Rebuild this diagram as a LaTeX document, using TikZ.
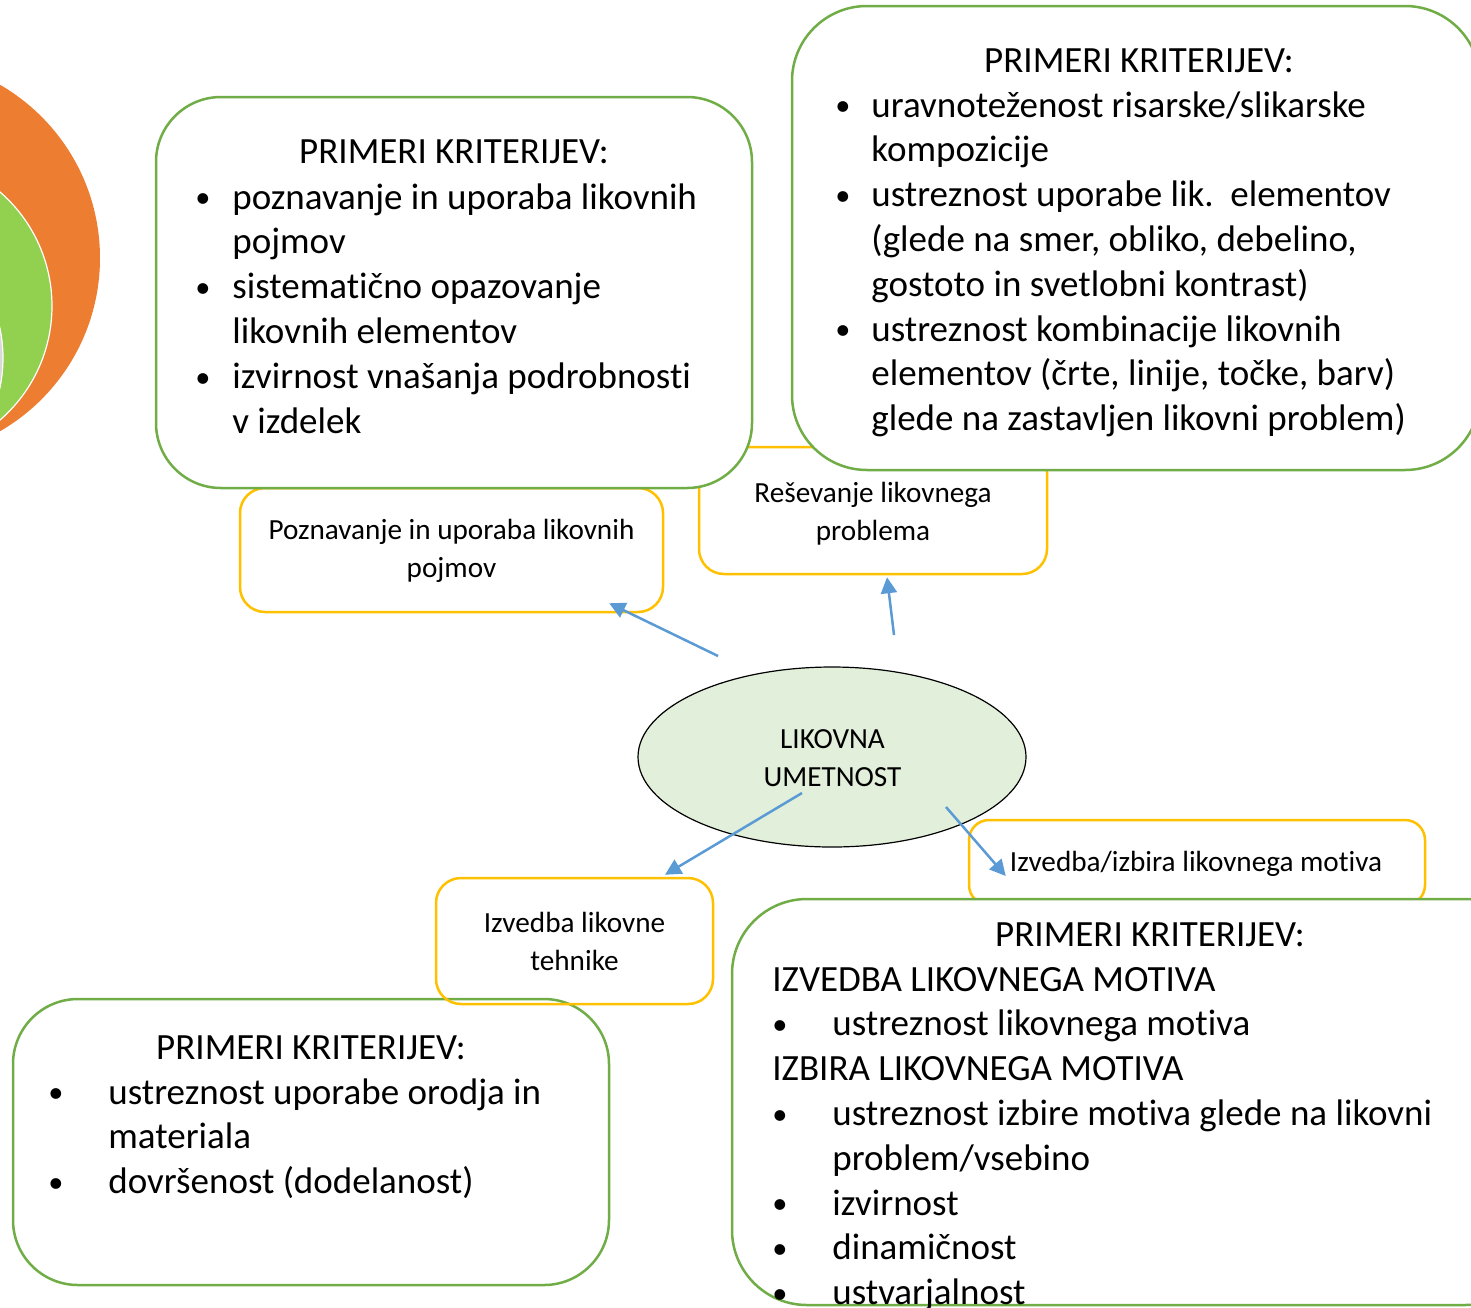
\documentclass[tikz,border=0pt]{standalone}
\usepackage{fontspec}
\setmainfont[RawFeature=-liga]{Carlito}
\usetikzlibrary{shapes.geometric,arrows.meta,calc}
\definecolor{kgreen}{HTML}{70AD47}
\definecolor{kyellow}{HTML}{FFC000}
\definecolor{kblue}{HTML}{5B9BD5}
\definecolor{korange}{HTML}{ED7D31}
\definecolor{klime}{HTML}{92D050}
\definecolor{kellipse}{HTML}{E2EFDA}
\definecolor{kgrey}{HTML}{D9D9D9}
\newcommand{\bigfont}{\fontsize{18.5pt}{22.4pt}\selectfont}
\newcommand{\smallfont}{\fontsize{14.6pt}{19pt}\selectfont}
\newcommand{\kbul}{\raisebox{0.6pt}{\scalebox{0.82}{\textbullet}}}
\begin{document}
\begin{tikzpicture}[x={(0.5pt,0)},y={(0,-0.5pt)},
  greenbox/.style={draw=kgreen,line width=1.25pt,fill=white,rectangle,inner sep=0pt},
  yellowbox/.style={draw=kyellow,line width=1.25pt,rectangle,rounded corners=12.5pt,inner sep=0pt},
  arr/.style={draw=kblue,line width=1.25pt,-{Triangle[length=8pt,width=8pt]}},
  bigtxt/.style={inner sep=0pt,font=\bigfont},
  smalltxt/.style={inner sep=0pt,font=\smallfont}]
\useasboundingbox (0,0) rectangle (1471,1307);
\clip (0,0) rectangle (1471,1307);

% decorative circles at the left edge
\fill[korange] (-100,258) circle[radius=100pt];
\filldraw[fill=klime,draw=white,line width=0.6pt] (-99,306) circle[radius=75.5pt];
\filldraw[fill=kgrey,draw=white,line width=0.6pt] (-140,358) circle[radius=71.5pt];

% yellow boxes lying under the green ones
\node[yellowbox,minimum width=174pt,minimum height=63.5pt] (C) at (873,510.5) {};
\node[yellowbox,minimum width=211.5pt,minimum height=62pt] (B) at (451.5,550) {};
\node[yellowbox,rounded corners=10pt,minimum width=228pt,minimum height=42.5pt] (F) at (1197,862.5) {};

% green boxes
\node[greenbox,rounded corners=32.5pt,minimum width=298pt,minimum height=195.5pt] (A) at (454,292.5) {};
\node[greenbox,rounded corners=37.5pt,minimum width=344pt,minimum height=232pt] (D) at (1136,238) {};
\node[greenbox,rounded corners=37.5pt,minimum width=404pt,minimum height=203pt] (G) at (1136,1102) {};
\node[greenbox,rounded corners=32.5pt,minimum width=298pt,minimum height=143pt] (I) at (311,1142) {};
\node[yellowbox,minimum width=138.5pt,minimum height=63pt] (H) at (574.5,941) {};

% central ellipse
\node[ellipse,draw=black,line width=0.6pt,fill=kellipse,minimum width=194pt,minimum height=90pt,inner sep=0pt] (E) at (832,757) {};

% texts of the small boxes
\node[smalltxt,anchor=base] (Et) at (832.5,748) {\begin{tabular}[t]{@{}c@{}}LIKOVNA\\UMETNOST\end{tabular}};
\node[smalltxt,anchor=base] (Bt) at (451.5,539) {\begin{tabular}[t]{@{}c@{}}Poznavanje in uporaba likovnih\\pojmov\end{tabular}};
\node[smalltxt,anchor=base] (Ct) at (873,502) {\begin{tabular}[t]{@{}c@{}}Reševanje likovnega\\problema\end{tabular}};
\node[smalltxt,anchor=base] (Ht) at (574.5,932) {\begin{tabular}[t]{@{}c@{}}Izvedba likovne\\tehnike\end{tabular}};
\node[smalltxt,anchor=base] (Ft) at (1196,871) {Izvedba/izbira likovnega motiva};

% box A text
\node[bigtxt,anchor=base] (At) at (454,163) {PRIMERI KRITERIJEV:};
\node[bigtxt,anchor=base west] (Al) at (195,209) {\begin{tabular}[t]{@{}p{18.5pt}@{}l@{}}
\kbul & poznavanje in uporaba likovnih\\
 & pojmov\\
\kbul & sistematično opazovanje\\
 & likovnih elementov\\
\kbul & izvirnost vnašanja podrobnosti\\
 & v izdelek
\end{tabular}};

% box D text
\node[bigtxt,anchor=base] (Dt) at (1139,72) {PRIMERI KRITERIJEV:};
\node[bigtxt,anchor=base west] (Dl) at (835,117) {\begin{tabular}[t]{@{}p{18pt}@{}l@{}}
\kbul & uravnoteženost risarske/slikarske\\
 & kompozicije\\
\kbul & ustreznost uporabe lik.\ \ elementov\\
 & (glede na smer, obliko, debelino,\\
 & gostoto in svetlobni kontrast)\\
\kbul & ustreznost kombinacije likovnih\\
 & elementov (črte, linije, točke, barv)\\
 & glede na zastavljen likovni problem)
\end{tabular}};

% box G text
\node[bigtxt,anchor=base] (Gt) at (1150,946) {PRIMERI KRITERIJEV:};
\node[bigtxt,anchor=base west] (Gl) at (772,991) {\begin{tabular}[t]{@{}p{30pt}@{}l@{}}
\multicolumn{2}{@{}l@{}}{IZVEDBA LIKOVNEGA MOTIVA}\\
\kbul & ustreznost likovnega motiva\\
\multicolumn{2}{@{}l@{}}{IZBIRA LIKOVNEGA MOTIVA}\\
\kbul & ustreznost izbire motiva glede na likovni\\
 & problem/vsebino\\
\kbul & izvirnost\\
\kbul & dinamičnost\\
\kbul & ustvarjalnost
\end{tabular}};

% box I text
\node[bigtxt,anchor=base] (It) at (311,1059) {PRIMERI KRITERIJEV:};
\node[bigtxt,anchor=base west] (Il) at (48,1104) {\begin{tabular}[t]{@{}p{30pt}@{}l@{}}
\kbul & ustreznost uporabe orodja in\\
 & materiala\\
\kbul & dovršenost (dodelanost)
\end{tabular}};

% connectors
\draw[arr] ($(E.center)+(-114,-101)$) -- ($(B.south east)+(-55,-10)$);
\draw[arr] ($(E.center)+(62,-122)$) -- ($(C.south)+(14,2)$);
\draw[arr] ($(E.center)+(-30,36)$) -- ($(H.north)+(90.5,-2)$);
\draw[arr] ($(E.center)+(114,50)$) -- ($(F.west)+(38,13.5)$);
\end{tikzpicture}
\end{document}
